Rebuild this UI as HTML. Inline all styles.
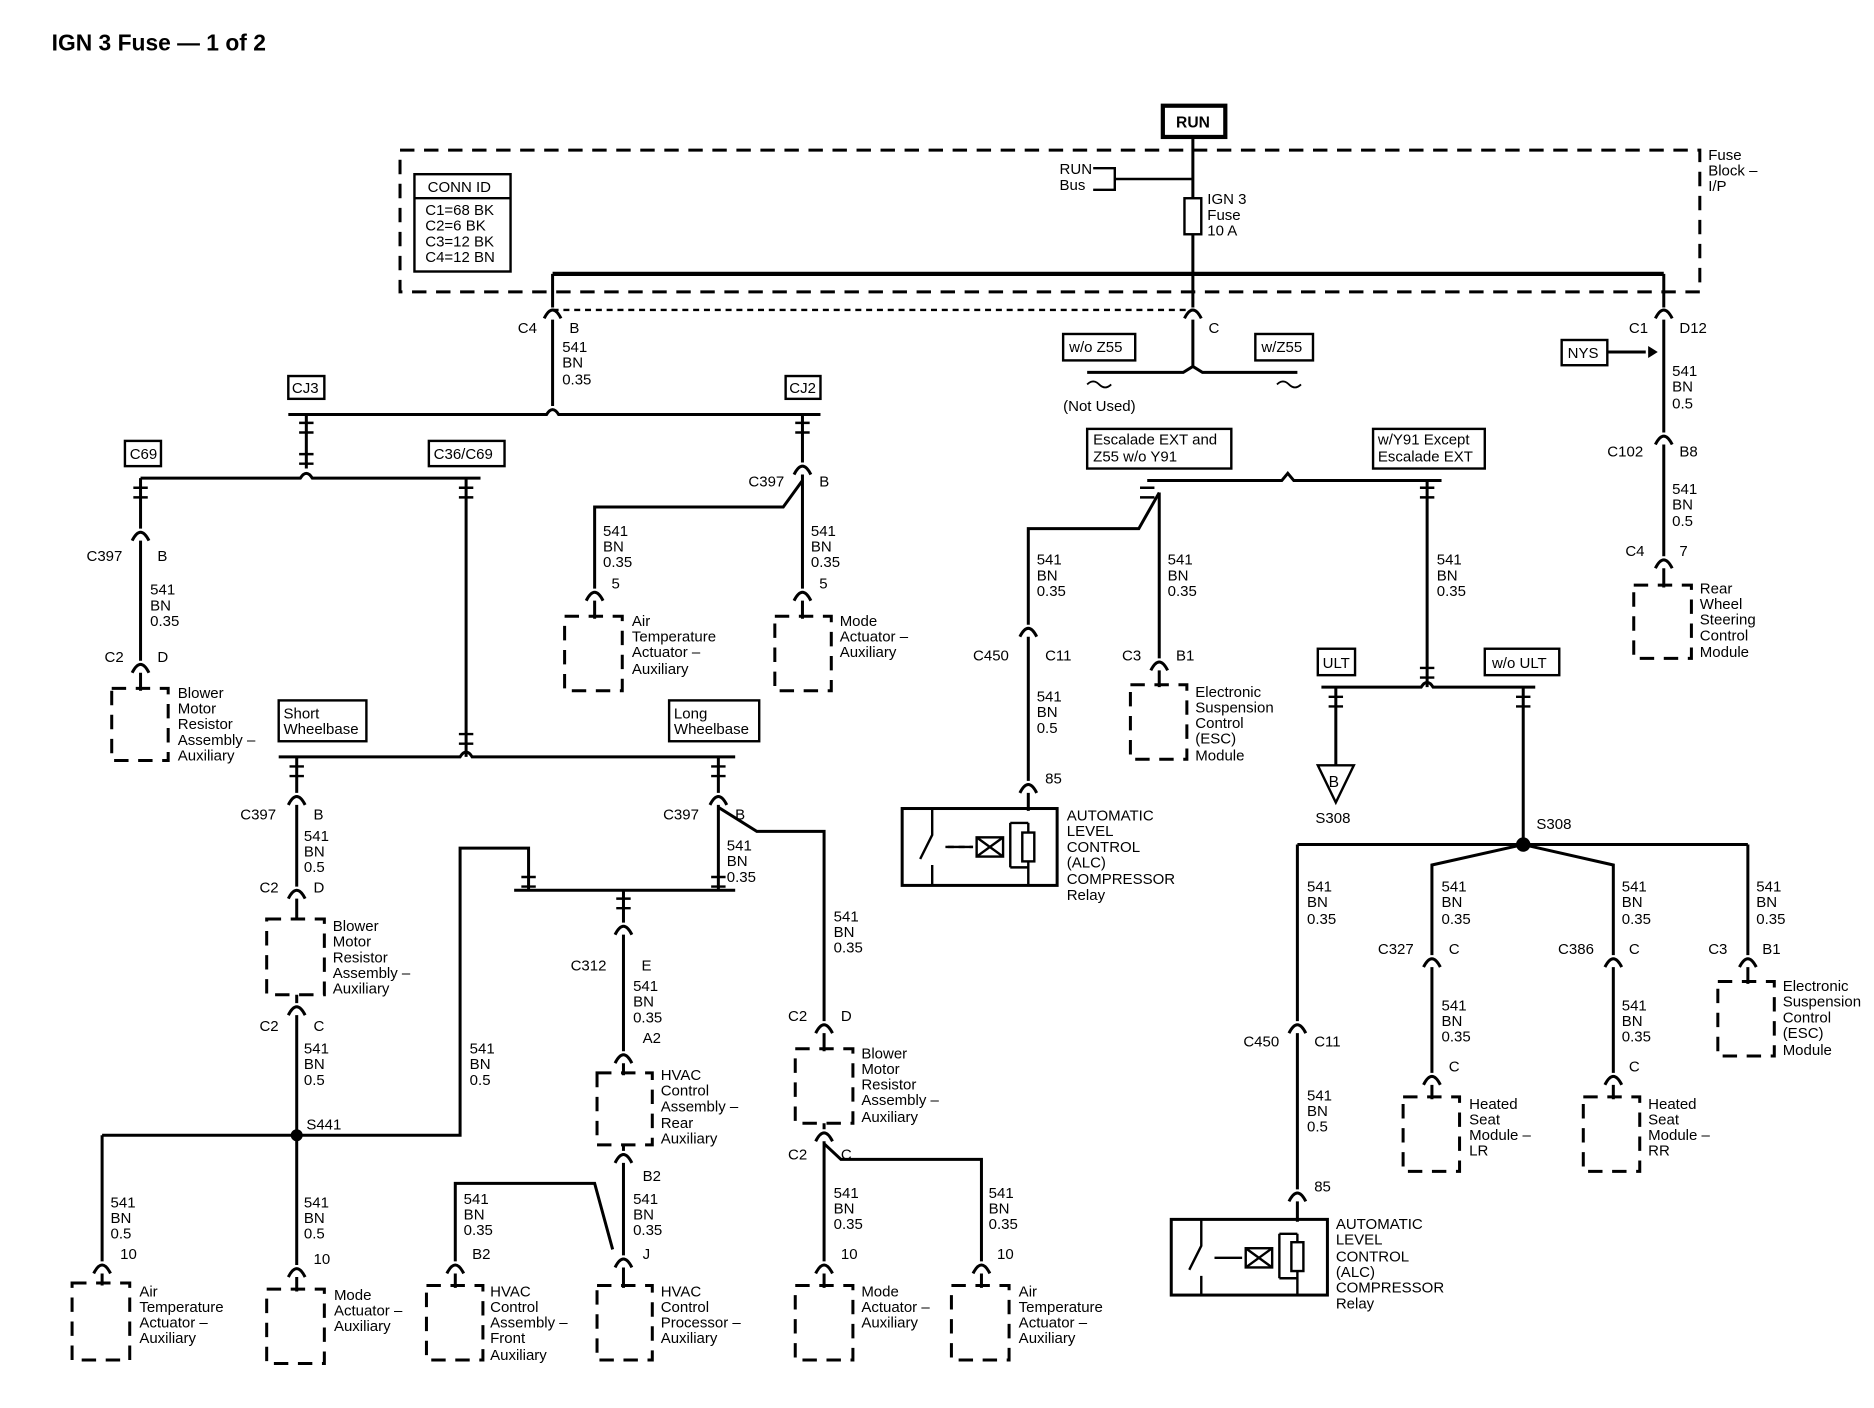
<!DOCTYPE html>
<html><head><meta charset="utf-8"><style>
html,body{margin:0;padding:0;background:#fff;}
svg{display:block;}
text{font-family:"Liberation Sans",sans-serif;font-size:12.5px;fill:#000;}
.b{font-weight:bold;}
</style></head><body>
<svg width="1874" height="1408" viewBox="0 0 1560 1172" preserveAspectRatio="none" xmlns="http://www.w3.org/2000/svg">
<defs>
<path id="cn" d="M-7,5 Q0,-9 7,5" fill="none" stroke="#000" stroke-width="2.5"/>
<path id="ib" d="M-6,-4 L6,-4 M-6,4 L6,4" fill="none" stroke="#000" stroke-width="2"/>
</defs>
<rect width="1560" height="1172" fill="#fff"/>
<text x="43" y="42" class="b" style="font-size:19px">IGN 3 Fuse — 1 of 2</text>

<g fill="none" stroke="#000" stroke-width="2.5">
<!-- top -->
<rect x="968" y="88" width="52" height="26" stroke-width="3.5"/>
<path d="M993,114 V165 M993,195 V228"/>
<rect x="986" y="165" width="14" height="30" stroke-width="2"/>
<rect x="333" y="125" width="1082" height="118" stroke-dasharray="12 8"/>
<path d="M910,140 H928 V158 H910 M928,149 H993" stroke-width="2"/>
<rect x="345" y="145" width="80" height="81" stroke-width="2"/>
<path d="M345,165 H425" stroke-width="2"/>
<path d="M460,228 H1385" stroke-width="3.5"/>
<path d="M460,228 V256 M993,228 V256 M1385,228 V256"/>
<path d="M460,258 H993" stroke-dasharray="5 4" stroke-width="2"/>
<!-- C4 branch -->
<path d="M460,266 V338 M240,345 H455 Q460,337 465,345 H683"/>
<path d="M255,345 V390 M117,398 H250 Q255,390 260,398 H400"/>
<path d="M117,398 V440 M117,450 V550 M117,560 V575"/>
<path d="M388,398 V630 M232,630 H383 Q388,622 393,630 H612"/>
<path d="M247,630 V660 M247,670 V738 M247,748 V765 M247,828 V835 M247,845 V1053 M247,1063 V1075"/>
<path d="M85,945 H383 V706 H440 V741 M428,741 H612 M85,945 V1050 M85,1060 V1070"/>
<path d="M598,630 V660 M598,670 V741 M598,672 L630,692 H686 V850 M686,860 V875 M686,935 V940 M686,950 V1050 M686,1060 V1072 M686,952 L700,965 H817 V1050 M817,1060 V1072"/>
<path d="M519,741 V768 M519,778 V875 M519,885 V895 M519,953 V958 M519,968 V1045 M519,1055 V1072 M379,1050 V985 H495 L510,1040 M379,1060 V1072"/>
<path d="M668,345 V385 M668,395 V490 M668,500 V515 M668,400 L652,422 H495 V490 M495,500 V515"/>
<!-- middle -->
<path d="M993,266 V305 M905,310 H985 L993,305 L1001,310 H1080"/>
<path d="M905,320 q5,-5 10,0 t10,0 M1063,320 q5,-5 10,0 t10,0" stroke-width="1.5"/>
<path d="M955,400 H1067 L1072,394 L1077,400 H1200"/>
<path d="M965,410 L948,440 H856 V520 M856,530 V650 M856,660 V675 M965,410 V548 M965,558 V572"/>
<path d="M1188,400 V572 M1100,572 H1183 Q1188,564 1193,572 H1278"/>
<path d="M1112,572 V637 M1268,572 V703 M1080,703 H1455"/>
<path d="M1080,703 V850 M1080,860 V990 M1080,1000 V1017"/>
<path d="M1268,703 L1192,720 V795 M1192,805 V893 M1192,903 V915"/>
<path d="M1268,703 L1343,720 V795 M1343,805 V893 M1343,903 V915"/>
<path d="M1455,703 V795 M1455,805 V819"/>
<path d="M1385,266 V360 M1385,370 V463 M1385,473 V489 M1338,293 H1370"/>
<!-- relays -->
<rect x="751" y="673" width="129" height="64"/>
<rect x="975" y="1015" width="130" height="63"/>
<path d="M776,673 V695 L766,715 M776,720 V737 M787,705 H810 M841,685 V722 M841,685 H856 M841,722 H856 M856,685 V737" stroke-width="2"/>
<path d="M1000,1015 V1037 L990,1057 M1000,1062 V1078 M1011,1047 H1034 M1065,1027 V1064 M1065,1027 H1080 M1065,1064 H1080 M1080,1027 V1078" stroke-width="2"/>
<path d="M789,705 H810" stroke-dasharray="5 4" stroke-width="2"/>
</g>
<g fill="#fff" stroke="#000" stroke-width="2">
<rect x="813" y="697" width="22" height="16"/><path d="M813,697 L835,713 M835,697 L813,713"/>
<rect x="851" y="693" width="10" height="24"/>
<rect x="1037" y="1039" width="22" height="16"/><path d="M1037,1039 L1059,1055 M1059,1039 L1037,1055"/>
<rect x="1075" y="1034" width="10" height="24"/>
</g>
<polygon points="1372,288 1380,293 1372,298" fill="#000"/>
<circle cx="247" cy="945" r="5" fill="#000"/>
<circle cx="1268" cy="703" r="6" fill="#000"/>
<polygon points="1097,637 1127,637 1112,668" fill="#fff" stroke="#000" stroke-width="2"/>

<!-- connectors -->
<g>
<use href="#cn" x="460" y="260"/><use href="#cn" x="993" y="260"/><use href="#cn" x="1385" y="260"/>
<use href="#cn" x="117" y="445"/><use href="#cn" x="117" y="555"/>
<use href="#cn" x="247" y="665"/><use href="#cn" x="247" y="743"/><use href="#cn" x="247" y="840"/><use href="#cn" x="247" y="1058"/>
<use href="#cn" x="85" y="1055"/><use href="#cn" x="598" y="665"/>
<use href="#cn" x="686" y="855"/><use href="#cn" x="686" y="945"/><use href="#cn" x="686" y="1055"/><use href="#cn" x="817" y="1055"/>
<use href="#cn" x="519" y="773"/><use href="#cn" x="519" y="880"/><use href="#cn" x="519" y="963"/><use href="#cn" x="519" y="1050"/><use href="#cn" x="379" y="1055"/>
<use href="#cn" x="668" y="390"/><use href="#cn" x="668" y="495"/><use href="#cn" x="495" y="495"/>
<use href="#cn" x="856" y="525"/><use href="#cn" x="856" y="655"/><use href="#cn" x="965" y="553"/>
<use href="#cn" x="1080" y="855"/><use href="#cn" x="1080" y="995"/>
<use href="#cn" x="1192" y="800"/><use href="#cn" x="1192" y="898"/><use href="#cn" x="1343" y="800"/><use href="#cn" x="1343" y="898"/><use href="#cn" x="1455" y="800"/>
<use href="#cn" x="1385" y="365"/><use href="#cn" x="1385" y="468"/>
<use href="#ib" x="255" y="356"/><use href="#ib" x="255" y="382"/>
<use href="#ib" x="117" y="410"/><use href="#ib" x="388" y="410"/><use href="#ib" x="388" y="615"/>
<use href="#ib" x="247" y="642"/><use href="#ib" x="598" y="642"/><use href="#ib" x="598" y="734"/><use href="#ib" x="440" y="734"/><use href="#ib" x="519" y="752"/>
<use href="#ib" x="668" y="356"/><use href="#ib" x="955" y="410"/><use href="#ib" x="1188" y="410"/><use href="#ib" x="1188" y="560"/>
<use href="#ib" x="1112" y="584"/><use href="#ib" x="1268" y="584"/>
</g>

<!-- dashed components -->
<g fill="none" stroke="#000" stroke-width="2.5" stroke-dasharray="12 8">
<rect x="93" y="573" width="47" height="60"/><rect x="222" y="765" width="48" height="63"/>
<rect x="222" y="1073" width="48" height="62"/><rect x="60" y="1068" width="48" height="64"/>
<rect x="355" y="1070" width="47" height="62"/><rect x="497" y="893" width="46" height="60"/>
<rect x="497" y="1070" width="46" height="62"/><rect x="662" y="873" width="48" height="62"/>
<rect x="662" y="1070" width="48" height="62"/><rect x="792" y="1070" width="48" height="62"/>
<rect x="470" y="513" width="48" height="62"/><rect x="645" y="513" width="47" height="62"/>
<rect x="941" y="570" width="47" height="62"/><rect x="1168" y="913" width="47" height="62"/>
<rect x="1318" y="913" width="47" height="62"/><rect x="1430" y="817" width="47" height="62"/>
<rect x="1360" y="487" width="48" height="61"/>
</g>

<!-- boxes with labels -->
<g fill="#fff" stroke="#000" stroke-width="2">
<rect x="240" y="313" width="30" height="19"/><rect x="654" y="313" width="29" height="19"/>
<rect x="104" y="367" width="30" height="21"/><rect x="357" y="367" width="63" height="21"/>
<rect x="232" y="583" width="73" height="34"/><rect x="557" y="583" width="75" height="34"/>
<rect x="885" y="278" width="60" height="22"/><rect x="1045" y="278" width="48" height="22"/>
<rect x="905" y="357" width="120" height="33"/><rect x="1143" y="357" width="93" height="33"/>
<rect x="1097" y="540" width="31" height="22"/><rect x="1236" y="540" width="62" height="22"/>
<rect x="1300" y="283" width="38" height="21"/>
</g>

<g>
<text x="979" y="106" class="b" style="font-size:13px">RUN</text>
<text x="882" y="145">RUN</text><text x="882" y="158">Bus</text>
<text x="1005" y="170">IGN 3</text><text x="1005" y="183">Fuse</text><text x="1005" y="196">10 A</text>
<text x="1422" y="133">Fuse</text><text x="1422" y="146">Block –</text><text x="1422" y="159">I/P</text>
<text x="356" y="160">CONN ID</text>
<text x="354" y="179">C1=68 BK</text><text x="354" y="192">C2=6 BK</text><text x="354" y="205">C3=12 BK</text><text x="354" y="218">C4=12 BN</text>
<text x="431" y="277">C4</text><text x="474" y="277">B</text>
<text x="468" y="293">541</text><text x="468" y="306">BN</text><text x="468" y="320">0.35</text>
<text x="1006" y="277">C</text><text x="1356" y="277">C1</text><text x="1398" y="277">D12</text>
<text x="243" y="327">CJ3</text><text x="657" y="327">CJ2</text>
<text x="108" y="382">C69</text><text x="361" y="382">C36/C69</text>
<text x="72" y="467">C397</text><text x="131" y="467">B</text>
<text x="125" y="495">541</text><text x="125" y="508">BN</text><text x="125" y="521">0.35</text>
<text x="87" y="551">C2</text><text x="131" y="551">D</text>
<text x="148" y="581">Blower</text><text x="148" y="594">Motor</text><text x="148" y="607">Resistor</text><text x="148" y="620">Assembly –</text><text x="148" y="633">Auxiliary</text>
<text x="236" y="598">Short</text><text x="236" y="611">Wheelbase</text>
<text x="561" y="598">Long</text><text x="561" y="611">Wheelbase</text>
<text x="200" y="682">C397</text><text x="261" y="682">B</text>
<text x="253" y="700">541</text><text x="253" y="713">BN</text><text x="253" y="726">0.5</text>
<text x="216" y="743">C2</text><text x="261" y="743">D</text>
<text x="277" y="775">Blower</text><text x="277" y="788">Motor</text><text x="277" y="801">Resistor</text><text x="277" y="814">Assembly –</text><text x="277" y="827">Auxiliary</text>
<text x="216" y="858">C2</text><text x="261" y="858">C</text>
<text x="253" y="877">541</text><text x="253" y="890">BN</text><text x="253" y="903">0.5</text>
<text x="255" y="940">S441</text>
<text x="391" y="877">541</text><text x="391" y="890">BN</text><text x="391" y="903">0.5</text>
<text x="92" y="1005">541</text><text x="92" y="1018">BN</text><text x="92" y="1031">0.5</text><text x="100" y="1048">10</text>
<text x="116" y="1079">Air</text><text x="116" y="1092">Temperature</text><text x="116" y="1105">Actuator –</text><text x="116" y="1118">Auxiliary</text>
<text x="253" y="1005">541</text><text x="253" y="1018">BN</text><text x="253" y="1031">0.5</text><text x="261" y="1052">10</text>
<text x="278" y="1082">Mode</text><text x="278" y="1095">Actuator –</text><text x="278" y="1108">Auxiliary</text>
<text x="552" y="682">C397</text><text x="612" y="682">B</text>
<text x="605" y="708">541</text><text x="605" y="721">BN</text><text x="605" y="734">0.35</text>
<text x="694" y="767">541</text><text x="694" y="780">BN</text><text x="694" y="793">0.35</text>
<text x="656" y="850">C2</text><text x="700" y="850">D</text>
<text x="717" y="881">Blower</text><text x="717" y="894">Motor</text><text x="717" y="907">Resistor</text><text x="717" y="920">Assembly –</text><text x="717" y="934">Auxiliary</text>
<text x="656" y="965">C2</text><text x="700" y="965">C</text>
<text x="694" y="997">541</text><text x="694" y="1010">BN</text><text x="694" y="1023">0.35</text><text x="700" y="1048">10</text>
<text x="717" y="1079">Mode</text><text x="717" y="1092">Actuator –</text><text x="717" y="1105">Auxiliary</text>
<text x="823" y="997">541</text><text x="823" y="1010">BN</text><text x="823" y="1023">0.35</text><text x="830" y="1048">10</text>
<text x="848" y="1079">Air</text><text x="848" y="1092">Temperature</text><text x="848" y="1105">Actuator –</text><text x="848" y="1118">Auxiliary</text>
<text x="475" y="808">C312</text><text x="534" y="808">E</text>
<text x="527" y="825">541</text><text x="527" y="838">BN</text><text x="527" y="851">0.35</text><text x="535" y="868">A2</text>
<text x="550" y="899">HVAC</text><text x="550" y="912">Control</text><text x="550" y="925">Assembly –</text><text x="550" y="939">Rear</text><text x="550" y="952">Auxiliary</text>
<text x="535" y="983">B2</text>
<text x="527" y="1002">541</text><text x="527" y="1015">BN</text><text x="527" y="1028">0.35</text><text x="535" y="1048">J</text>
<text x="550" y="1079">HVAC</text><text x="550" y="1092">Control</text><text x="550" y="1105">Processor –</text><text x="550" y="1118">Auxiliary</text>
<text x="386" y="1002">541</text><text x="386" y="1015">BN</text><text x="386" y="1028">0.35</text><text x="393" y="1048">B2</text>
<text x="408" y="1079">HVAC</text><text x="408" y="1092">Control</text><text x="408" y="1105">Assembly –</text><text x="408" y="1118">Front</text><text x="408" y="1132">Auxiliary</text>
<text x="623" y="405">C397</text><text x="682" y="405">B</text>
<text x="502" y="446">541</text><text x="502" y="459">BN</text><text x="502" y="472">0.35</text><text x="509" y="490">5</text>
<text x="675" y="446">541</text><text x="675" y="459">BN</text><text x="675" y="472">0.35</text><text x="682" y="490">5</text>
<text x="526" y="521">Air</text><text x="526" y="534">Temperature</text><text x="526" y="547">Actuator –</text><text x="526" y="561">Auxiliary</text>
<text x="699" y="521">Mode</text><text x="699" y="534">Actuator –</text><text x="699" y="547">Auxiliary</text>
<text x="890" y="293">w/o Z55</text><text x="1050" y="293">w/Z55</text>
<text x="885" y="342">(Not Used)</text>
<text x="910" y="370">Escalade EXT and</text><text x="910" y="384">Z55 w/o Y91</text>
<text x="1147" y="370">w/Y91 Except</text><text x="1147" y="384">Escalade EXT</text>
<text x="863" y="470">541</text><text x="863" y="483">BN</text><text x="863" y="496">0.35</text>
<text x="972" y="470">541</text><text x="972" y="483">BN</text><text x="972" y="496">0.35</text>
<text x="1196" y="470">541</text><text x="1196" y="483">BN</text><text x="1196" y="496">0.35</text>
<text x="810" y="550">C450</text><text x="870" y="550">C11</text>
<text x="934" y="550">C3</text><text x="979" y="550">B1</text>
<text x="863" y="584">541</text><text x="863" y="597">BN</text><text x="863" y="610">0.5</text><text x="870" y="652">85</text>
<text x="995" y="580">Electronic</text><text x="995" y="593">Suspension</text><text x="995" y="606">Control</text><text x="995" y="619">(ESC)</text><text x="995" y="633">Module</text>
<text x="888" y="683">AUTOMATIC</text><text x="888" y="696">LEVEL</text><text x="888" y="709">CONTROL</text><text x="888" y="722">(ALC)</text><text x="888" y="736">COMPRESSOR</text><text x="888" y="749">Relay</text>
<text x="1101" y="556">ULT</text><text x="1242" y="556">w/o ULT</text>
<text x="1106" y="655" style="font-size:13px">B</text>
<text x="1095" y="685">S308</text><text x="1279" y="690">S308</text>
<text x="1088" y="742">541</text><text x="1088" y="755">BN</text><text x="1088" y="769">0.35</text>
<text x="1200" y="742">541</text><text x="1200" y="755">BN</text><text x="1200" y="769">0.35</text>
<text x="1350" y="742">541</text><text x="1350" y="755">BN</text><text x="1350" y="769">0.35</text>
<text x="1462" y="742">541</text><text x="1462" y="755">BN</text><text x="1462" y="769">0.35</text>
<text x="1147" y="794">C327</text><text x="1206" y="794">C</text>
<text x="1297" y="794">C386</text><text x="1356" y="794">C</text>
<text x="1422" y="794">C3</text><text x="1467" y="794">B1</text>
<text x="1484" y="825">Electronic</text><text x="1484" y="838">Suspension</text><text x="1484" y="851">Control</text><text x="1484" y="864">(ESC)</text><text x="1484" y="878">Module</text>
<text x="1200" y="841">541</text><text x="1200" y="854">BN</text><text x="1200" y="867">0.35</text><text x="1206" y="892">C</text>
<text x="1350" y="841">541</text><text x="1350" y="854">BN</text><text x="1350" y="867">0.35</text><text x="1356" y="892">C</text>
<text x="1223" y="923">Heated</text><text x="1223" y="936">Seat</text><text x="1223" y="949">Module –</text><text x="1223" y="962">LR</text>
<text x="1372" y="923">Heated</text><text x="1372" y="936">Seat</text><text x="1372" y="949">Module –</text><text x="1372" y="962">RR</text>
<text x="1035" y="871">C450</text><text x="1094" y="871">C11</text>
<text x="1088" y="916">541</text><text x="1088" y="929">BN</text><text x="1088" y="942">0.5</text><text x="1094" y="992">85</text>
<text x="1112" y="1023">AUTOMATIC</text><text x="1112" y="1036">LEVEL</text><text x="1112" y="1050">CONTROL</text><text x="1112" y="1063">(ALC)</text><text x="1112" y="1076">COMPRESSOR</text><text x="1112" y="1089">Relay</text>
<text x="1305" y="298">NYS</text>
<text x="1392" y="313">541</text><text x="1392" y="326">BN</text><text x="1392" y="340">0.5</text>
<text x="1338" y="380">C102</text><text x="1398" y="380">B8</text>
<text x="1392" y="411">541</text><text x="1392" y="424">BN</text><text x="1392" y="438">0.5</text>
<text x="1353" y="463">C4</text><text x="1398" y="463">7</text>
<text x="1415" y="494">Rear</text><text x="1415" y="507">Wheel</text><text x="1415" y="520">Steering</text><text x="1415" y="533">Control</text><text x="1415" y="547">Module</text>
</g>
</svg>
</body></html>
